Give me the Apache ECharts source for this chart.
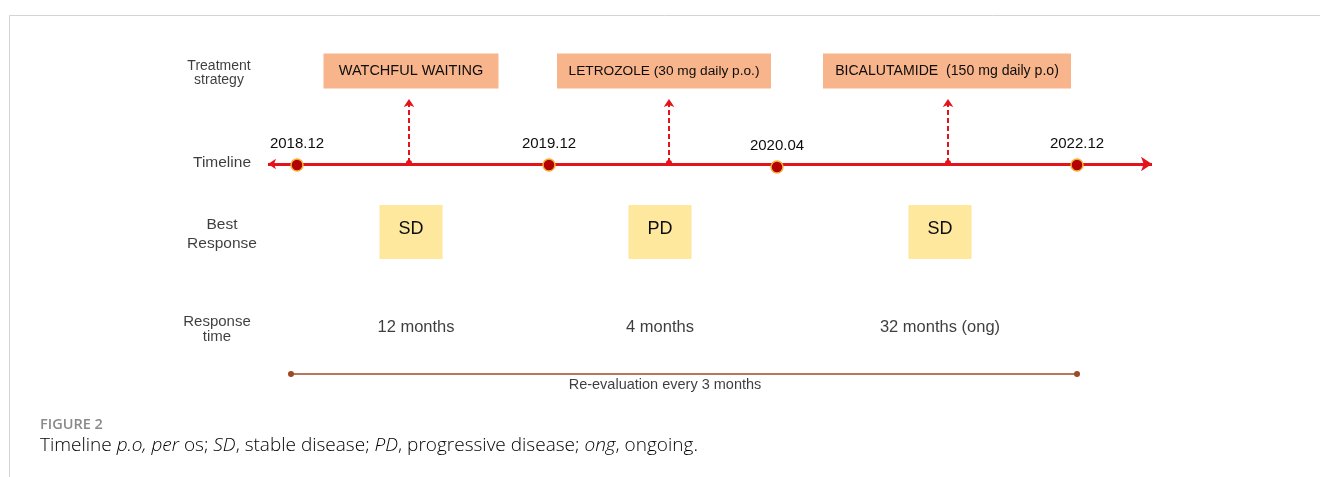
<!DOCTYPE html>
<html>
<head>
<meta charset="utf-8">
<script src="https://cdn.jsdelivr.net/npm/echarts@6/dist/echarts.min.js"></script>
<style>
  html, body { margin: 0; padding: 0; background: #fff; }
  #main { width: 1320px; height: 477px; }
</style>
</head>
<body>
<div id="main"></div>
<script>
/** 数据 (schematic positions) */
const rowLabels = ['Treatment\nstrategy', 'Timeline', 'Best\nResponse', 'Response\ntime'];
const rowY = [73, 163, 234, 329];

const dates = ['2018.12', '2019.12', '2020.04', '2022.12'];
const dateX = [297, 549, 777, 1077];
const dateY = [165, 165, 167, 165];

const treatments = ['WATCHFUL WAITING', 'LETROZOLE (30 mg daily p.o.)', 'BICALUTAMIDE  (150 mg daily p.o)'];
const treatmentX = [411, 664, 947];
const treatmentStartX = [409, 669, 948];

const responses = ['SD', 'PD', 'SD'];
const responseX = [411, 660, 940];

const responseTimes = ['12 months', '4 months', '32 months (ong)'];
const responseTimeX = [416, 660, 940];

const timelineSpan = [268, 1152];
const reevalSpan = [291, 1077];
const reevalLabel = 'Re-evaluation every 3 months';

/** 布局/样式 */
const FONT = '"Liberation Sans", Arial, sans-serif';
const treatmentBoxW = [175, 214, 248];
const treatmentFont = [14.5, 13.7, 14.1];
const treatmentRowY = 71;
const arrowTopY = 99;
const timelineY = 164;
const responseRowY = 232;
const responseTimeY = 327;
const reevalY = 374;
const RED = '#e5121b';
const TEXT = '#0d0d0d';

let myChart = echarts.init(document.getElementById('main'), null, {renderer: 'canvas'});

// 行标题字号
const rowFont = [14, 15.5, 15.5, 15];
const rowLH = [14, 16, 19, 15];
const rowX = [219, 222, 222, 217];

let option = {
  animation: false,
  grid: {left: 0, right: 0, top: 0, bottom: 0},
  xAxis: {type: 'value', min: 0, max: 1320, show: false},
  yAxis: {type: 'value', min: 0, max: 477, inverse: true, show: false},
  graphic: [
    { type: 'polyline', shape: {points: [[9.5, 477], [9.5, 15.5], [1320, 15.5]]},
      style: {stroke: '#d4d4d4', lineWidth: 1, fill: null} },
    { type: 'text', left: 40, top: 417,
      style: {text: 'FIGURE 2', font: '600 14.5px "Open Sans", sans-serif', fill: '#8a8a8a'} },
    { type: 'text', left: 40, top: 436,
      style: {
        text: '{n|Timeline }{i|p.o, per}{n| os; }{i|SD}{n|, stable disease; }{i|PD}{n|, progressive disease; }{i|ong}{n|, ongoing.}',
        rich: {
          n: {fontFamily: '"Open Sans", sans-serif', fontSize: 19, fontWeight: 300, color: '#929292'},
          i: {fontFamily: '"Open Sans", sans-serif', fontSize: 19, fontWeight: 300, fontStyle: 'italic', color: '#929292'}
        }
      } }
  ],
  series: [
    // 行标题
    {
      type: 'scatter', symbolSize: 0, silent: true,
      data: rowLabels.map((t, i) => ({
        value: [rowX[i], rowY[i]],
        label: {show: true, position: 'inside', formatter: t, fontSize: rowFont[i], lineHeight: rowLH[i],
          fontFamily: FONT, color: TEXT, align: 'center'}
      }))
    },
    // 治疗方案框
    {
      type: 'scatter', symbol: 'rect', silent: true,
      itemStyle: {color: '#f8b58b', opacity: 1},
      data: treatments.map((t, i) => ({
        value: [treatmentX[i], treatmentRowY],
        symbolSize: [treatmentBoxW[i], 35],
        label: {show: true, position: 'inside', formatter: t, fontSize: treatmentFont[i], fontFamily: FONT, color: TEXT}
      }))
    },
    // 虚线箭头
    {
      type: 'lines', coordinateSystem: 'cartesian2d', silent: true, z: 3,
      symbol: ['circle', 'arrow'], symbolSize: [6, 8],
      lineStyle: {color: RED, width: 2, type: [5, 3], opacity: 1},
      data: treatmentStartX.map(x => ({coords: [[x, timelineY - 1], [x, arrowTopY]]}))
    },
    // 时间轴
    {
      type: 'lines', coordinateSystem: 'cartesian2d', silent: true, z: 2,
      symbol: ['arrow', 'arrow'], symbolSize: [8, 11],
      lineStyle: {color: RED, width: 3, opacity: 1},
      data: [{coords: [[timelineSpan[0], timelineY], [timelineSpan[1], timelineY]]}]
    },
    // 时间节点
    {
      type: 'scatter', symbolSize: 12, silent: true, z: 5,
      itemStyle: {color: '#b30000', borderColor: '#f5b03a', borderWidth: 1.5, opacity: 1},
      label: {show: true, position: 'top', distance: 7, fontSize: 15, fontFamily: FONT, color: TEXT,
        formatter: p => dates[p.dataIndex]},
      data: dateX.map((x, i) => [x, dateY[i]])
    },
    // 疗效框
    {
      type: 'scatter', symbol: 'rect', symbolSize: [63, 54], silent: true,
      itemStyle: {color: '#fde89d', opacity: 1},
      label: {show: true, position: 'inside', offset: [0, -3], fontSize: 18, fontFamily: FONT, color: TEXT,
        formatter: p => responses[p.dataIndex]},
      data: responseX.map(x => [x, responseRowY])
    },
    // 缓解时间
    {
      type: 'scatter', symbolSize: 0, silent: true,
      label: {show: true, position: 'inside', fontSize: 16.5, fontFamily: FONT, color: TEXT,
        formatter: p => responseTimes[p.dataIndex]},
      data: responseTimeX.map(x => [x, responseTimeY])
    },
    // 复查线
    {
      type: 'lines', coordinateSystem: 'cartesian2d', silent: true,
      symbol: ['circle', 'circle'], symbolSize: 6,
      lineStyle: {color: '#9b4a26', width: 1.5, opacity: 1},
      data: [{coords: [[reevalSpan[0], reevalY], [reevalSpan[1], reevalY]]}]
    },
    {
      type: 'scatter', symbolSize: 0, silent: true,
      label: {show: true, position: 'inside', fontSize: 14.5, fontFamily: FONT, color: TEXT,
        formatter: reevalLabel},
      data: [[(reevalSpan[0] + reevalSpan[1]) / 2 - 19, reevalY + 11]]
    }
  ]
};

myChart.setOption(option);
</script>
</body>
</html>
